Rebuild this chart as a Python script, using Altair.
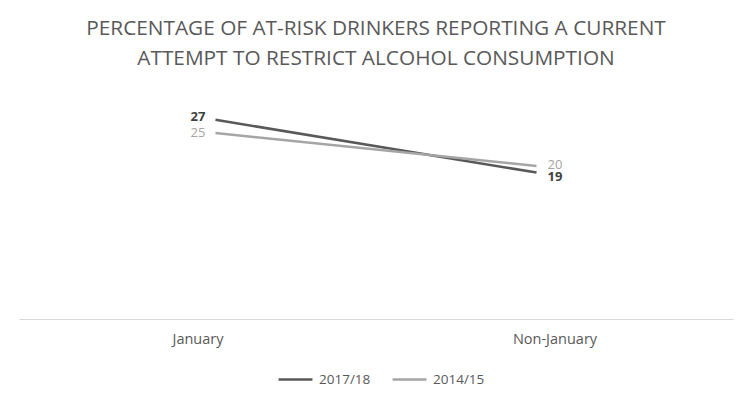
import altair as alt
import pandas as pd

categories = ["January", "Non-January"]
series_names = ["2017/18", "2014/15"]
values_2017 = [27, 19]
values_2014 = [25, 20]

DARK = "#595959"
LIGHT = "#a5a5a5"
TEXT = "#595959"
FONT = "Open Sans"

rows = []
for s, vals in zip(series_names, [values_2017, values_2014]):
    for i, (c, v) in enumerate(zip(categories, vals)):
        rows.append({"category": c, "series": s, "value": v, "side": "left" if i == 0 else "right"})
df = pd.DataFrame(rows)

y_scale = alt.Scale(domain=[-3.2, 30], nice=False, zero=False)
line_x = alt.X("category:N", sort=categories,
               scale=alt.Scale(type="point", domain=categories, padding=0.612), axis=None)
y_enc = alt.Y("value:Q", scale=y_scale, axis=None)

axis_layer = alt.Chart(pd.DataFrame({"category": categories, "value": [0, 0]})).mark_point(opacity=0).encode(
    x=alt.X("category:N", sort=categories, scale=alt.Scale(type="point", domain=categories, padding=0.5),
            axis=alt.Axis(title=None, domainColor="#d9d9d9", domainWidth=1, ticks=False, grid=False,
                          labelColor=TEXT, labelFontSize=14.5, labelFont=FONT, labelPadding=13,
                          labelAngle=0)),
    y=y_enc,
)

lines = alt.Chart(df).mark_line(strokeWidth=2.5).encode(
    x=line_x,
    y=y_enc,
    color=alt.Color("series:N", sort=series_names,
                    scale=alt.Scale(domain=series_names, range=[DARK, LIGHT]),
                    legend=alt.Legend(title=None, orient="none", legendX=258, legendY=261,
                                      direction="horizontal", symbolType="stroke",
                                      symbolSize=1150, symbolStrokeWidth=2.5,
                                      labelFontSize=13.5, labelColor=TEXT, labelFont=FONT,
                                      columnPadding=16, labelOffset=5, padding=0)),
    detail="series:N",
)

label_layers = []
label_cfg = {
    ("2017/18", "left"): dict(align="right", dx=-10, dy=-3, color="#404040", fontWeight="bold"),
    ("2014/15", "left"): dict(align="right", dx=-10, dy=0, color=LIGHT, fontWeight="normal"),
    ("2017/18", "right"): dict(align="left", dx=11, dy=4, color="#404040", fontWeight="bold"),
    ("2014/15", "right"): dict(align="left", dx=11, dy=-1, color=LIGHT, fontWeight="normal"),
}
for (s, side), cfg in label_cfg.items():
    lyr = alt.Chart(df).transform_filter(
        (alt.datum.series == s) & (alt.datum.side == side)
    ).mark_text(font=FONT, fontSize=13, baseline="middle", **cfg).encode(
        x=line_x, y=y_enc, text="value:Q"
    )
    label_layers.append(lyr)

chart = alt.layer(axis_layer, lines, *label_layers).resolve_scale(x="independent").properties(
    width=714, height=219,
    title=alt.TitleParams(
        text=["PERCENTAGE OF AT-RISK DRINKERS REPORTING A CURRENT",
              "ATTEMPT TO RESTRICT ALCOHOL CONSUMPTION"],
        fontSize=20.8, font=FONT, fontWeight="normal", color=TEXT, lineHeight=30,
        anchor="middle", offset=30,
    ),
    autosize=alt.AutoSizeParams(type="none"),
    padding={"left": 11, "top": 92, "right": 9, "bottom": 74},
    background="white",
).configure_view(stroke=None)

chart.save("out.html", embed_options={"renderer": "svg", "actions": False})
